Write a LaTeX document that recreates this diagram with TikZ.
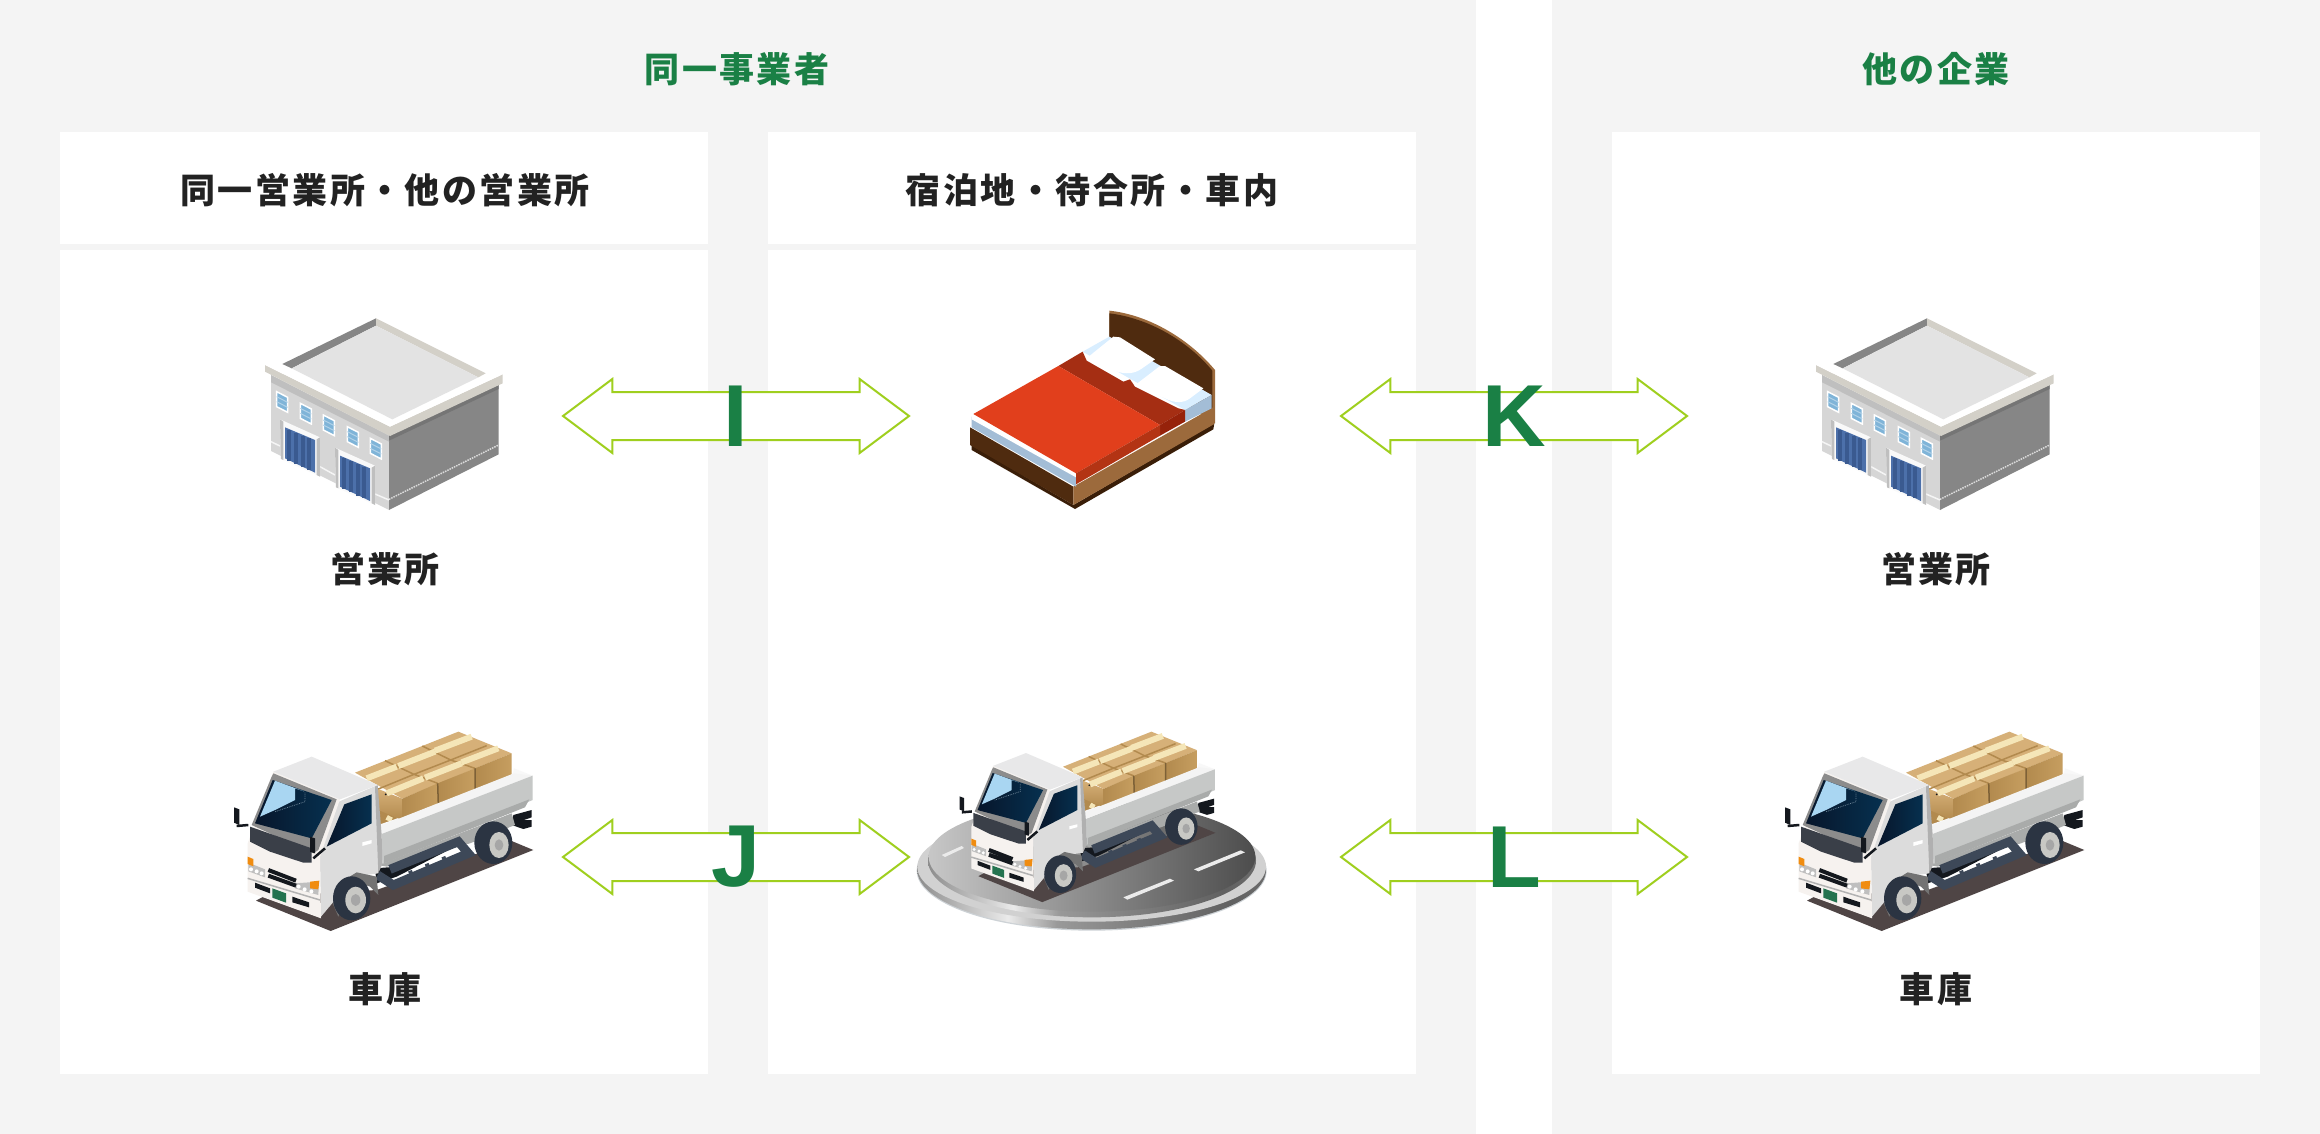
\documentclass[tikz,border=0pt]{standalone}
\usepackage{fontspec}
\usetikzlibrary{shapes.arrows}
\newfontfamily\jpfont[LetterSpace=7]{Noto Sans CJK JP}
\setmainfont{Liberation Sans}
\definecolor{bandgray}{HTML}{F4F4F4}
\definecolor{titlegreen}{HTML}{1A8045}
\definecolor{inkdark}{HTML}{222222}
\definecolor{arrowgreen}{HTML}{9FCF1E}
% building
\definecolor{wallL}{HTML}{D6D6D6}
\definecolor{wallLs}{HTML}{BFBFBF}
\definecolor{wallR}{HTML}{868686}
\definecolor{wallRs}{HTML}{757575}
\definecolor{rimbeige}{HTML}{D3D0C8}
\definecolor{roofgray}{HTML}{E3E3E3}
\definecolor{winblue}{HTML}{7FB4D8}
\definecolor{doorblue}{HTML}{4C70AA}
\definecolor{doordark}{HTML}{3A5A90}
% bed
\definecolor{bedbrown}{HTML}{4F2B0F}
\definecolor{bedlight}{HTML}{9C6A3C}
\definecolor{beddeep}{HTML}{3A1E08}
\definecolor{matblue}{HTML}{A3BDD6}
\definecolor{matlight}{HTML}{D9EEFF}
\definecolor{duvet}{HTML}{E13F1C}
\definecolor{duvetside}{HTML}{B33414}
\definecolor{duvetband}{HTML}{A52E13}
\definecolor{duvetbside}{HTML}{96220A}
% truck
\definecolor{shadowtruck}{HTML}{4F4545}
\definecolor{bedside}{HTML}{C6C8C7}
\definecolor{bedstripe}{HTML}{A9ABAA}
\definecolor{boxtop}{HTML}{D6B078}
\definecolor{boxleft}{HTML}{B28A4E}
\definecolor{boxright}{HTML}{C69E60}
\definecolor{boxtape}{HTML}{F5E6B8}
\definecolor{cabroof}{HTML}{E8E8E9}
\definecolor{cabside}{HTML}{DCDCDC}
\definecolor{cabfront}{HTML}{F6F2EF}
\definecolor{glassA}{HTML}{07162B}
\definecolor{glassB}{HTML}{06304F}
\definecolor{glasslight}{HTML}{A9D6F2}
\definecolor{cabband}{HTML}{3A3F48}
\definecolor{tyre}{HTML}{2B3442}
\definecolor{hub}{HTML}{C8C8C4}
\definecolor{chassis}{HTML}{3D4858}
\definecolor{lamporange}{HTML}{F08C10}
\definecolor{plategreen}{HTML}{24734F}
\definecolor{blackish}{HTML}{14181E}
\pgfdeclarehorizontalshading{discrim}{100bp}{
 color(0bp)=(black!38);color(25bp)=(black!45);color(38bp)=(black!8);color(45bp)=(black!40);color(70bp)=(black!62);color(85bp)=(black!50);color(100bp)=(black!35)}
\tikzset{
 band/.style={fill=bandgray,draw=none},
 panel/.style={fill=white,draw=none},
 jptitle/.style={font=\jpfont\bfseries\fontsize{35}{35}\selectfont,text=titlegreen,inner sep=0pt},
 jphead/.style={font=\jpfont\bfseries\fontsize{35}{35}\selectfont,text=inkdark,inner sep=0pt},
 bigletter/.style={font=\bfseries\fontsize{88}{88}\selectfont,text=titlegreen,inner sep=0pt},
 blockarrow/.style={shape=double arrow,draw=arrowgreen,fill=white,line width=2pt,inner xsep=0pt,inner ysep=23pt,outer sep=0pt,
   minimum height=346pt,minimum width=72pt,double arrow head extend=13pt,double arrow head indent=0pt,double arrow tip angle=73.7},
}
\newcommand{\drawbuilding}[1]{%
 \begin{scope}[#1]
 \fill[wallL] (153,255)--(507,435)--(507,660)--(153,483)--cycle;
 \fill[wallR] (507,435)--(836,285)--(836,493)--(507,660)--cycle;
 \fill[wallLs] (153,255)--(507,437)--(507,455)--(153,277)--cycle;
 \fill[wallRs] (507,437)--(836,285)--(836,297)--(507,452)--cycle;
 \draw[white!70!wallR,line width=1.5pt,densely dotted] (507,628)--(836,465);
 \draw[white!75!wallL,line width=1.5pt] (153,455)--(180,468) (300,530)--(345,555) (465,612)--(507,630);
 \foreach \wx/\wy in {170/305,241/340,310/375,382/410,451/445}{
  \fill[winblue,draw=white,line width=1.5pt] (\wx,\wy)--++(33,17)--++(0,45)--++(-33,-17)--cycle;
  \draw[white!40!winblue,line width=1pt] (\wx,\wy+15)--++(33,17) (\wx,\wy+30)--++(33,17);
 }
 \foreach \dx/\dy in {0/0,165/85}{
  \begin{scope}[shift={(\dx,\dy)}]
  \fill[white!90!wallLs] (180,388)--(300,442)--(300,560)--(290,555)--(183,507)--cycle;
  \fill[wallLs] (290,448)--(300,442)--(300,560)--(290,555)--cycle;
  \fill[wallLs] (180,388)--(190,395)--(190,510)--(183,507)--cycle;
  \fill[doorblue] (195,412)--(285,450)--(285,548)--(195,505)--cycle;
  \draw[doordark,line width=4pt] (208,420)--(208,512) (229,429)--(229,522) (250,438)--(250,532) (268,445)--(268,540);
  \end{scope}
 }
 \fill[rimbeige] (135,225)--(510,410)--(510,438)--(135,245)--cycle;
 \fill[rimbeige] (510,410)--(848,253)--(848,280)--(510,438)--cycle;
 \fill[white] (135,225)--(187,222)--(215,235)--(517,388)--(775,262)--(797,250)--(848,253)--(510,410)--cycle;
 \fill[wallR] (187,222)--(468,85)--(468,107)--(215,235)--cycle;
 \fill[rimbeige] (468,85)--(797,250)--(775,262)--(468,107)--cycle;
 \fill[roofgray] (215,235)--(468,107)--(775,262)--(517,388)--cycle;
 \end{scope}}
\newcommand{\drawtruck}[1]{%
 \begin{scope}[#1]
 \fill[shadowtruck] (138,572)--(362,663)--(970,420)--(905,393)--(500,540)--(160,560)--cycle;
 % under body and rear bracket
 \fill[blackish] (910,315)--(965,300)--(965,322)--(942,330)--(965,330)--(965,350)--(940,357)--(905,345)--cycle;
 \fill[bedstripe] (505,465)--(905,310)--(915,345)--(780,400)--(530,470)--cycle;
 % rear wheel
 \fill[tyre] (850,398) ellipse (57 and 64);
 \fill[hub] (867,405) ellipse (29 and 39);
 \fill[black!35] (867,405) ellipse (13 and 17);
 % chassis
 \fill[blackish] (495,475)--(560,470)--(740,395)--(745,405)--(560,500)--(500,520)--cycle;
 \draw[chassis,line width=9pt] (503,495)--(550,525)--(775,430)--(745,395)--(540,478);
 \foreach \cx in {600,650,700}{\draw[chassis,line width=4pt] (\cx,482-\cx*.0+0.42*600-0.42*\cx)--++(10,25);}
 % boxes lower
 \fill[boxleft] (505,295)--(577,330)--(520,360)--(505,355)--cycle;
 \draw[boxtape,line width=5pt] (530,322)--(545,330);
 % bed
 \fill[white!88!bedside] (505,345)--(905,205)--(912,175)--(968,197)--(515,372)--cycle;
 % boxes top layer
 \fill[boxtop] (435,188)--(745,65)--(905,130)--(577,266)--cycle;
 \shade[top color=boxtop,bottom color=boxleft,draw=none] (505,237)--(577,266)--(577,330)--(505,300)--cycle;
 \shade[left color=boxleft,right color=boxright] (577,266)--(683,220)--(685,283)--(577,330)--cycle;
 \shade[left color=boxleft,right color=boxright] (683,220)--(795,175)--(795,240)--(685,283)--cycle;
 \shade[left color=boxleft,right color=boxright] (795,175)--(905,130)--(905,193)--(795,240)--cycle;
 \draw[boxleft,line width=1.5pt] (505,237)--(612,193)--(722,150)--(830,107) (525,152)--(612,193)--(683,220) (637,108)--(722,150)--(795,175);
 \draw[black!30!boxleft,line width=1.5pt] (683,220)--(685,283) (795,175)--(795,240);
 \draw[boxtape,line width=6pt] (470,205)--(560,170) (565,168)--(675,125) (675,122)--(785,80);
 \draw[boxtape,line width=6pt] (530,250)--(640,205) (645,203)--(755,160) (755,157)--(865,115);
 \fill[blackish] (527,253) circle (3);
 % bed side panel
 \fill[white!80!bedside] (505,350)--(912,190)--(968,197)--(515,372)--cycle;
 \fill[bedside] (515,372)--(968,197)--(968,270)--(517,462)--cycle;
 \fill[bedstripe] (522,438)--(958,268)--(945,292)--(522,460)--cycle;
 % cab side
 \fill[cabside] (375,280)--(503,225)--(505,490)--(430,500)--(375,570)--(333,620)--(330,440)--cycle;
 \fill[cabside!80!black] (495,230)--(503,225)--(515,375)--(517,462)--(505,490)--cycle;
 % cab front
 \fill[cabfront] (190,185)--(390,268)--(330,440)--(333,625)--(113,545)--(113,400)--cycle;
 \fill[cabroof] (190,185)--(305,140)--(503,225)--(390,268)--cycle;
 \fill[black!45] (185,200)--(190,190)--(380,268)--(325,420)--(310,430)--(125,345)--cycle;
 % windshield
 \shade[left color=glassA,right color=glassB] (188,210)--(365,270)--(305,385)--(135,340)--cycle;
 \fill[glasslight] (195,212)--(282,244)--(255,235)--(255,270)--(195,300)--(150,320)--cycle;
 \draw[glassB!60!white,line width=.8pt,densely dotted] (285,248)--(285,275)--(195,305);
 % side window
 \shade[left color=glassA,right color=glassB] (403,283)--(485,253)--(485,340)--(350,410)--cycle;
 \fill[white] (457,397)--(485,390)--(485,400)--(457,408)--cycle;
 % band under windshield
 \fill[cabband] (120,350)--(305,415)--(305,458)--(280,458)--(180,425)--(120,395)--cycle;
 % mirrors
 \fill[blackish] (72,292)--(88,298)--(88,345)--(72,338)--cycle;
 \draw[blackish,line width=2.5pt] (80,348)--(115,345);
 \fill[blackish] (300,380)--(315,385)--(315,430)--(300,425)--cycle;
 \draw[blackish,line width=2.5pt] (310,445)--(345,415);
 % lamps
 \fill[black!25] (115,458)--(165,478)--(165,502)--(115,484)--cycle;
 \fill[lamporange] (113,440)--(130,447)--(130,469)--(113,462)--cycle;
 \fill[black!25] (255,520)--(327,515)--(325,555)--(255,535)--cycle;
 \fill[lamporange] (300,515)--(328,512)--(325,538)--(300,535)--cycle;
 \foreach \lx/\ly in {123/478,140/484,155/490,266/530,284/538,304/544}{\fill[white] (\lx,\ly) circle (6);}
 % grille
 \draw[blackish,line width=4pt] (175,480)--(258,512) (175,497)--(258,527);
 \draw[black!30,line width=1.5pt] (113,505)--(330,570);
 % vents, plate
 \fill[blackish] (135,518)--(180,535)--(180,550)--(135,533)--cycle;
 \fill[blackish] (247,560)--(297,577)--(297,592)--(247,577)--cycle;
 \fill[plategreen] (187,535)--(228,550)--(228,578)--(187,563)--cycle;
 % front wheel
 \fill[black!55] (368,580)--(395,515)--(440,487)--(500,500)--(505,555)--(480,530)--(430,510)--(385,620)--cycle;
 \fill[tyre] (425,565) ellipse (56 and 66);
 \fill[hub] (437,570) ellipse (31 and 40);
 \fill[black!35] (437,570) ellipse (14 and 18);
 \end{scope}}
\newcommand{\drawbed}[1]{%
 \begin{scope}[#1]
 \fill[bedlight] (478,62) .. controls (600,75) and (720,150) .. (795,240)--(795,400)--(478,200)--cycle;
 \fill[bedbrown] (478,70) .. controls (600,85) and (715,155) .. (787,242)--(787,360)--(478,200)--cycle;
 \fill[beddeep] (65,465)--(370,645)--(793,400)--(790,418)--(375,657)--(65,480)--cycle;
 \fill[bedbrown] (60,412)--(370,590)--(370,645)--(60,465)--cycle;
 \fill[bedlight] (370,590)--(793,350)--(793,402)--(370,645)--cycle;
 \fill[matblue] (65,380)--(378,548)--(378,590)--(65,412)--cycle;
 \fill[white] (65,375)--(378,548)--(378,562)--(65,388)--cycle;
 \fill[matlight] (398,185)--(478,140)--(785,315)--(705,360)--cycle;
 \fill[matblue] (705,360)--(785,315)--(785,355)--(705,395)--cycle;
 \fill[duvetband] (325,228)--(398,185)--(410,212)--(520,275)--(540,268)--(555,290)--(685,355)--(705,360)--(630,405)--cycle;
 \fill[duvetbside] (630,405)--(705,360)--(705,395)--(630,437)--cycle;
 \fill[duvet] (70,372)--(325,228)--(630,405)--(378,550)--cycle;
 \fill[duvetside] (378,550)--(630,405)--(630,437)--(378,583)--cycle;
 \fill[white] (412,203)--(490,140)--(510,142)--(615,208)--(575,236) .. controls (555,250) and (530,255) .. (495,243)--cycle;
 \fill[white] (553,287)--(630,228)--(645,228)--(760,295)--(720,325) .. controls (700,340) and (675,340) .. (645,325)--cycle;
 \end{scope}}
\newcommand{\drawdisc}[1]{%
 \begin{scope}[#1]
 \fill[matlight!60!black!40] (575,482) ellipse (525 and 180);
 \shade[shading=discrim] (575,480) ellipse (523 and 178);
 \fill[black!18] (575,470) ellipse (523 and 165);
 \shade[shading=discrim] (576,452) ellipse (492 and 170);
 \shade[left color=black!22,right color=black!70] (576,440) ellipse (490 and 165);
 \fill[white!92!black] (125,435)--(185,408)--(192,414)--(135,441)--cycle;
 \fill[white!92!black] (670,562)--(810,506)--(822,512)--(682,569)--cycle;
 \fill[white!92!black] (882,478)--(1022,421)--(1035,427)--(895,484)--cycle;
 \end{scope}}
\begin{document}
\begin{tikzpicture}[x=1pt,y=-1pt]
\useasboundingbox (0,0) rectangle (2320,1134);
\fill[white] (0,0) rectangle (2320,1134);
\fill[band] (0,0) rectangle (1476,1134);
\fill[band] (1552,0) rectangle (2320,1134);
\foreach \px in {60,768}{
 \fill[panel] (\px,132) rectangle ++(648,112);
 \fill[panel] (\px,250) rectangle ++(648,824);
}
\fill[panel] (1612,132) rectangle (2260,1074);
% block arrows
\node[blockarrow] (arrI) at (736,416) {};
\node[blockarrow] (arrJ) at (736,857) {};
\node[blockarrow] (arrK) at (1514,416) {};
\node[blockarrow] (arrL) at (1514,857) {};
% pictures
\drawbuilding{shift={(220,290)},scale=1/3}
\drawbuilding{shift={(1771,290)},scale=1/3}
\drawtruck{shift={(210,710)},scale=1/3}
\drawtruck{shift={(1761,710)},scale=1/3}
\drawbed{shift={(950,290)},scale=1/3}
\drawdisc{shift={(900,710)},scale=1/3}
\drawtruck{shift={(939.05,713.14)},scale=.285}
% texts
\node[jptitle] (t1) at (737,69) {同一事業者};
\node[jptitle] (t2) at (1936,69) {他の企業};
\node[jphead] (h1) at (385,190) {同一営業所・他の営業所};
\node[jphead] (h2) at (1092,190) {宿泊地・待合所・車内};
\node[jphead] (l1) at (385,569) {営業所};
\node[jphead] (l2) at (385,989) {車庫};
\node[jphead] (l3) at (1936,569) {営業所};
\node[jphead] (l4) at (1936,989) {車庫};
\node[bigletter] (I) at (arrI) {I};
\node[bigletter] (J) at (arrJ) {J};
\node[bigletter] (K) at (arrK) {K};
\node[bigletter] (L) at (arrL) {L};
\end{tikzpicture}
\end{document}
